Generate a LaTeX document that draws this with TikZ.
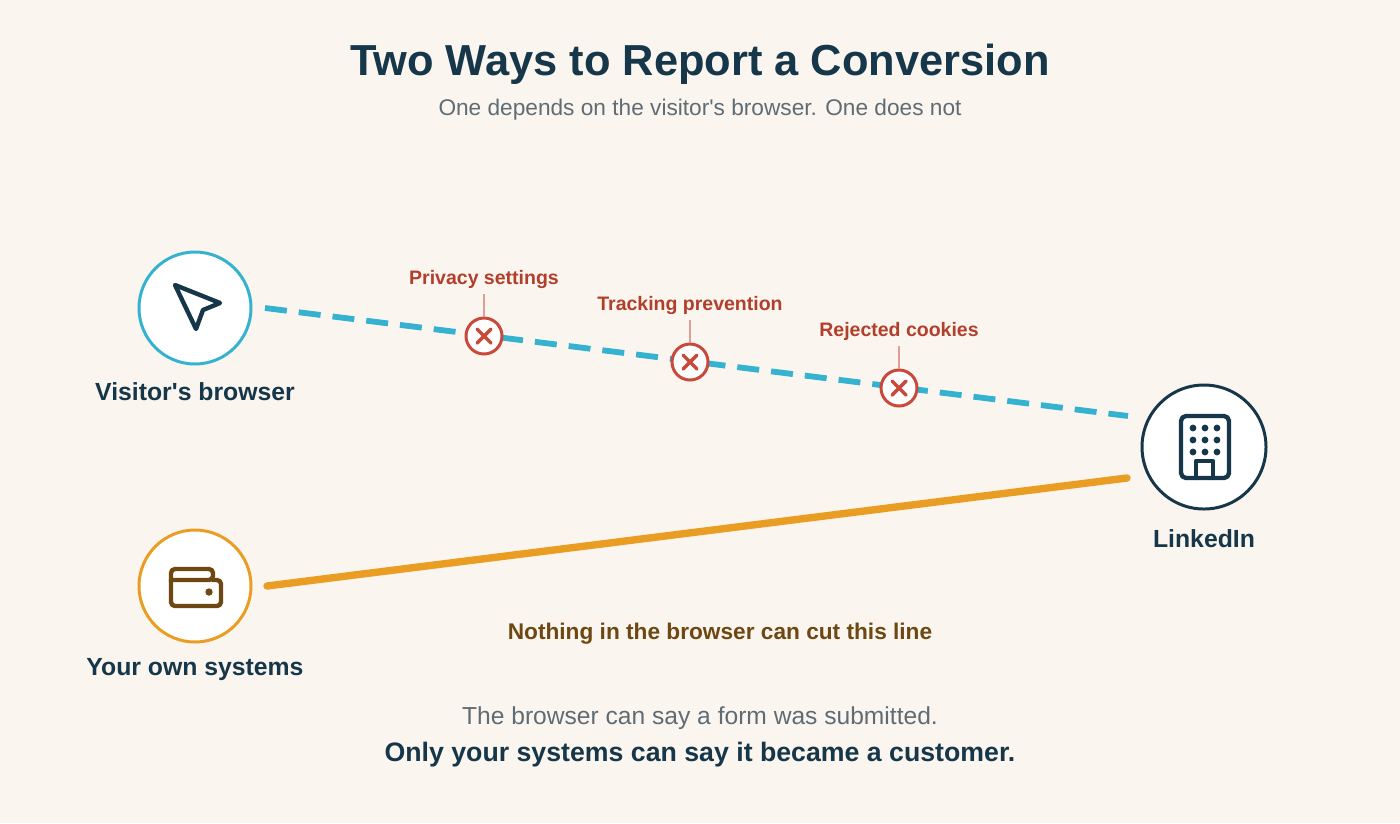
\documentclass[tikz,border=0pt]{standalone}
\usepackage{fontspec}
\setmainfont{Liberation Sans}
\usetikzlibrary{positioning,calc}
\definecolor{bgcream}{RGB}{250,245,238}
\definecolor{navy}{RGB}{22,54,74}
\definecolor{skyblue}{RGB}{52,178,208}
\definecolor{amber}{RGB}{233,157,34}
\definecolor{brownish}{RGB}{110,72,18}
\definecolor{alertred}{RGB}{200,74,58}
\definecolor{labelred}{RGB}{178,62,44}
\definecolor{greytext}{RGB}{96,108,116}
\tikzset{
  actor/.style={circle, fill=white, line width=1.7pt, minimum size=112\unit, inner sep=0pt},
  actor-label/.style={font=\bfseries\fontsize{14.1}{16}\selectfont, text=navy},
  blocker/.style={circle, fill=white, draw=alertred, line width=1.7pt, minimum size=36\unit, inner sep=0pt},
  blocker-label/.style={font=\bfseries\fontsize{11.1}{13}\selectfont, text=labelred},
  glyph/.style={line width=2.5pt, line cap=round, line join=round}
}
\newlength{\unit}
\setlength{\unit}{0.02cm}
\begin{document}
\begin{tikzpicture}[x=0.02cm, y=-0.02cm]
  \fill[bgcream] (0,0) rectangle (1400,823);
  % title
  \node[font=\bfseries\fontsize{24.7}{28}\selectfont, text=navy] (title) at (700,64) {Two Ways to Report a Conversion};
  \node[font=\fontsize{12.9}{15}\selectfont, text=greytext] (subtitle) at (700,110) {One depends on the visitor\textquotesingle s browser. One does not};
  % actors
  \node[actor, draw=skyblue] (browser) at (195,308) {};
  \node[actor, draw=amber] (systems) at (195,586) {};
  \node[actor, draw=navy, minimum size=124\unit] (linkedin) at (1204,447) {};
  \node[actor-label] (browserlbl) at (195,392) {Visitor\textquotesingle s browser};
  \node[actor-label] (systemslbl) at (195,670) {Your own systems};
  \node[actor-label] (linkedinlbl) at (1204,539) {LinkedIn};
  % connector ends
  \coordinate (webstart) at (265,308);
  \coordinate (webend) at (1128,416);
  \coordinate (crmstart) at (267,586);
  \coordinate (crmend) at (1127,478);
  % connectors
  \draw[skyblue, line width=3.3pt, dash pattern=on 22\unit off 12\unit] (webstart) -- (webend);
  \draw[amber, line width=4.2pt, line cap=round] (crmstart) -- (crmend);
  % blockers
  \foreach \name/\x/\y/\txt in {priv/484/336/Privacy settings, track/690/362/Tracking prevention, cook/899/388/Rejected cookies}{
    \node[blocker] (\name) at (\x,\y) {};
    \node[blocker-label] (\name lbl) at (\x,\y-57) {\txt};
    \draw[alertred!55, line width=0.8pt] (\name lbl.south) -- (\name.north);
    \draw[alertred, glyph, line width=2pt] ($(\name)+(-7,-7)$) -- ($(\name)+(7,7)$) ($(\name)+(-7,7)$) -- ($(\name)+(7,-7)$);
  }
  % cursor glyph
  \draw[glyph, navy] (175,285) -- (220,303) -- (203,310) -- (196,329) -- cycle;
  % building glyph
  \draw[glyph, navy, rounded corners=5\unit] (1181,416) rectangle (1229,478);
  \draw[glyph, navy] (1196,478) -- (1196,461) -- (1213,461) -- (1213,478);
  \foreach \i in {0,1,2}{
    \foreach \j in {0,1,2}{
      \fill[navy] (1193+\i*12,428+\j*12) circle (3.4\unit);
    }
  }
  % wallet glyph
  \draw[glyph, brownish, rounded corners=4\unit] (171,580) -- (171,606) -- (221,606) -- (221,580) -- (213,580);
  \draw[glyph, brownish, rounded corners=4\unit] (171,582) -- (171,569) -- (213,569) -- (213,580) -- (171,580);
  \fill[brownish] (209,592) circle (3.7\unit);
  % captions
  \node[font=\bfseries\fontsize{12.9}{15}\selectfont, text=brownish] (cutnote) at (720,634) {Nothing in the browser can cut this line};
  \node[font=\fontsize{14}{16}\selectfont, text=greytext] (note1) at (700,718) {The browser can say a form was submitted.};
  \node[font=\bfseries\fontsize{15.2}{18}\selectfont, text=navy] (note2) at (700,755) {Only your systems can say it became a customer.};
\end{tikzpicture}
\end{document}
